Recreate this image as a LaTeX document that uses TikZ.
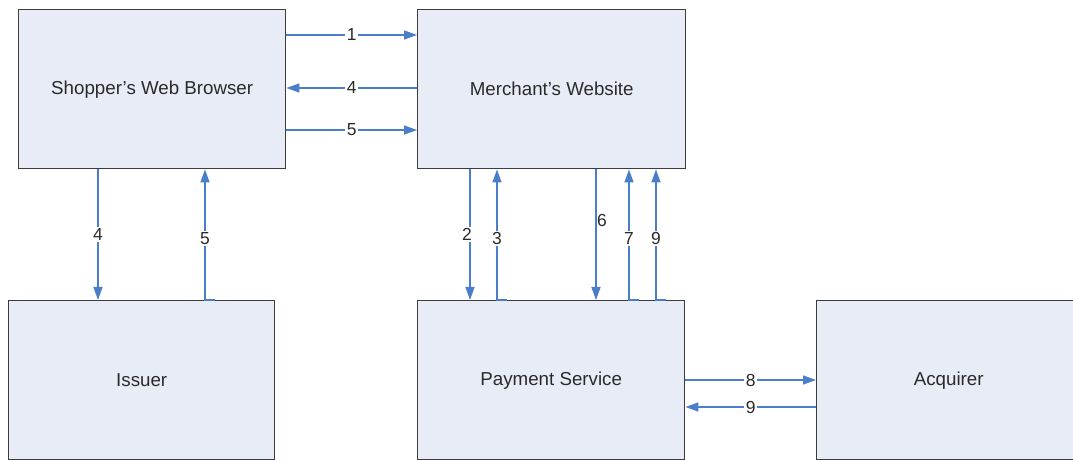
\documentclass[tikz,border=0pt]{standalone}
\usepackage{fontspec}
\setmainfont{Liberation Sans}
\usetikzlibrary{arrows.meta,calc}
\definecolor{boxfill}{HTML}{E8ECF6}
\definecolor{boxline}{HTML}{3C3C3C}
\definecolor{flowblue}{HTML}{4A7EC8}
\definecolor{txt}{HTML}{2A2A2A}
\begin{document}
\begin{tikzpicture}[x=1bp,y=-1bp,
  party/.style={draw=boxline, fill=boxfill, line width=1.4bp,
    minimum width=#1, minimum height=159bp, anchor=north west,
    inner sep=0pt, font=\fontsize{18.8}{21}\selectfont, text=txt},
  flow/.style={draw=flowblue, line width=1.4bp,
    -{Triangle[length=13bp,width=9bp]}},
  num/.style={fill=white, inner sep=1.5bp,
    font=\fontsize{17.5}{19}\selectfont, text=txt},
]
\useasboundingbox (0,0) rectangle (1073,460);

% participants
\node[party=267bp] (shop)  at (18,9)    {Shopper’s Web Browser};
\node[party=268bp] (merch) at (417,9)   {Merchant’s Website};
\node[party=266bp] (iss)   at (8,300)   {Issuer};
\node[party=267bp] (pay)   at (417,300) {Payment Service};
\node[party=264bp] (acq)   at (816,300) {Acquirer};

% browser <-> merchant
\draw[flow] ($(shop.north east)+(0,26)$) -- ($(merch.north west)+(0,26)$)
  node[num,midway] {1};
\draw[flow] ($(merch.north west)+(0,79)$) -- ($(shop.north east)+(0,79)$)
  node[num,midway] {4};
\draw[flow] ($(shop.north east)+(0,121)$) -- ($(merch.north west)+(0,121)$)
  node[num,midway] {5};

% browser <-> issuer
\coordinate (b4) at ($(shop.south west)+(80,0)$);
\coordinate (i5) at ($(iss.north west)+(197,0)$);
\draw[flow] (b4) -- (b4 |- iss.north) node[num,midway] {4};
\draw[flow] ($(i5)+(10,0)$) -- (i5) -- (i5 |- shop.south)
  node[num,pos=0.47] {5};

% merchant <-> payment service
\coordinate (m2) at ($(merch.south west)+(53,0)$);
\coordinate (p3) at ($(pay.north west)+(80,0)$);
\coordinate (m6) at ($(merch.south west)+(179,0)$);
\coordinate (p7) at ($(pay.north west)+(212,0)$);
\coordinate (p9) at ($(pay.north west)+(239,0)$);
\draw[flow] (m2) -- (m2 |- pay.north) node[num,midway,xshift=-3bp] {2};
\draw[flow] ($(p3)+(10,0)$) -- (p3) -- (p3 |- merch.south)
  node[num,pos=0.47] {3};
\draw[flow] (m6) -- (m6 |- pay.north)
  node[num,fill=none,pos=0.39,xshift=6bp] {6};
\draw[flow] ($(p7)+(10,0)$) -- (p7) -- (p7 |- merch.south)
  node[num,pos=0.47] {7};
\draw[flow] ($(p9)+(10,0)$) -- (p9) -- (p9 |- merch.south)
  node[num,pos=0.47] {9};

% payment service <-> acquirer
\draw[flow] ($(pay.north east)+(0,80)$) -- ($(acq.north west)+(0,80)$)
  node[num,midway] {8};
\draw[flow] ($(acq.north west)+(0,107)$) -- ($(pay.north east)+(0,107)$)
  node[num,midway] {9};
\end{tikzpicture}
\end{document}
